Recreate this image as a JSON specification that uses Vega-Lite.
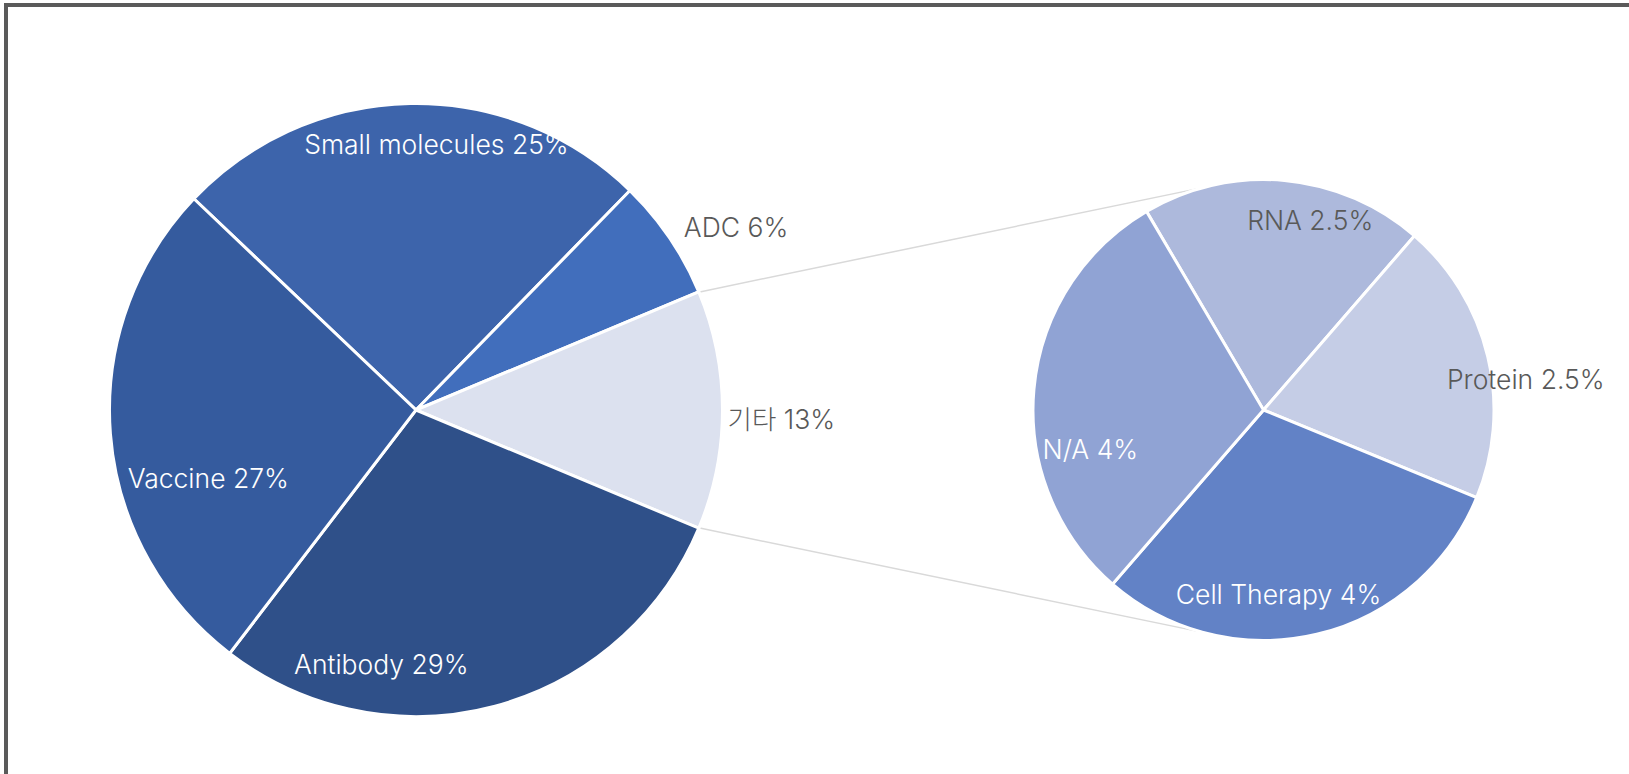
{
  "$schema": "https://vega.github.io/schema/vega-lite/v6.json",
  "width": 1623,
  "height": 769,
  "autosize": {"type": "none"},
  "padding": {"left": 6, "top": 5, "right": 0, "bottom": 0},
  "background": "#ffffff",
  "config": {
    "view": {"stroke": "#5a5a5a", "strokeWidth": 4, "strokeDash": [1623, 2392, 769]},
    "text": {"font": "Inter, 'Noto Sans CJK KR', sans-serif", "fontSize": 26.5, "fontWeight": 300}
  },
  "datasets": {
    "main": [
      {"pie": "main", "cat": "Small molecules", "label": "Small molecules 25%", "share": 25.2, "rank": 1},
      {"pie": "main", "cat": "ADC", "label": "ADC 6%", "share": 6.4, "rank": 2},
      {"pie": "main", "cat": "기타", "label": "기타 13%", "share": 12.6, "rank": 3},
      {"pie": "main", "cat": "Antibody", "label": "Antibody 29%", "share": 29.1, "rank": 4},
      {"pie": "main", "cat": "Vaccine", "label": "Vaccine 27%", "share": 26.7, "rank": 5}
    ],
    "detail": [
      {"pie": "detail", "cat": "RNA", "label": "RNA 2.5%", "share": 2.5, "rank": 1},
      {"pie": "detail", "cat": "Protein", "label": "Protein 2.5%", "share": 2.5, "rank": 2},
      {"pie": "detail", "cat": "Cell Therapy", "label": "Cell Therapy 4%", "share": 3.8, "rank": 3},
      {"pie": "detail", "cat": "N/A", "label": "N/A 4%", "share": 3.8, "rank": 4}
    ],
    "connectors": [
      {"x0": 0.9227, "y0": 0.3856, "x1": 2.56, "y1": 0.725},
      {"x0": 0.9227, "y0": -0.3856, "x1": 2.56, "y1": -0.725}
    ]
  },
  "layer": [
    {
      "data": {"name": "connectors"},
      "mark": {"type": "rule", "stroke": "#d9d9d9", "strokeWidth": 1.5},
      "encoding": {
        "x": {"field": "x0", "type": "quantitative", "scale": {"domain": [-1.34426, 3.97705], "nice": false, "zero": false}, "axis": null},
        "y": {"field": "y0", "type": "quantitative", "scale": {"domain": [-1.19344, 1.32787], "nice": false, "zero": false}, "axis": null},
        "x2": {"field": "x1"},
        "y2": {"field": "y1"}
      }
    },
    {
      "data": {"name": "main"},
      "encoding": {
        "x": {"field": "pie", "type": "nominal", "scale": {"type": "point", "domain": ["main", "detail"], "range": [410, 1257.5], "padding": 0}, "axis": null},
        "y": {"field": "pie", "type": "nominal", "scale": {"type": "point", "domain": ["main", "detail"], "range": [405, 405], "padding": 0}, "axis": null},
        "theta": {"field": "share", "type": "quantitative", "stack": true, "scale": {"domain": [0, 100], "range": [-0.81053, 5.47266]}},
        "order": {"field": "rank", "type": "quantitative"},
        "detail": {"field": "cat", "type": "nominal"}
      },
      "layer": [
        {
          "mark": {"type": "arc", "outerRadius": 306.5, "stroke": "#ffffff", "strokeWidth": 3},
          "encoding": {
            "color": {"field": "cat", "type": "nominal", "legend": null,
              "scale": {"domain": ["Small molecules", "ADC", "기타", "Antibody", "Vaccine"],
                        "range": ["#3d64ab", "#416ebc", "#dce1ef", "#2f5089", "#355b9e"]}}
          }
        },
        {
          "mark": {"type": "text", "radius": 264.3, "thetaOffset": 0.0962, "color": "#ffffff"},
          "encoding": {"text": {"condition": {"test": "datum.cat === 'Small molecules'", "field": "label"}, "value": ""}}
        },
        {
          "mark": {"type": "text", "radius": 367.9, "thetaOffset": 0.0813, "color": "#595959"},
          "encoding": {"text": {"condition": {"test": "datum.cat === 'ADC'", "field": "label"}, "value": ""}}
        },
        {
          "mark": {"type": "text", "radius": 365.5, "thetaOffset": 0.0295, "color": "#595959"},
          "encoding": {"text": {"condition": {"test": "datum.cat === '기타'", "field": "label"}, "value": ""}}
        },
        {
          "mark": {"type": "text", "radius": 258.3, "thetaOffset": 0.3955, "color": "#ffffff"},
          "encoding": {"text": {"condition": {"test": "datum.cat === 'Antibody'", "field": "label"}, "value": ""}}
        },
        {
          "mark": {"type": "text", "radius": 219.2, "thetaOffset": -0.2464, "color": "#ffffff"},
          "encoding": {"text": {"condition": {"test": "datum.cat === 'Vaccine'", "field": "label"}, "value": ""}}
        }
      ]
    },
    {
      "data": {"name": "detail"},
      "encoding": {
        "x": {"field": "pie", "type": "nominal", "scale": {"type": "point", "domain": ["main", "detail"], "range": [410, 1257.5], "padding": 0}, "axis": null},
        "y": {"field": "pie", "type": "nominal", "scale": {"type": "point", "domain": ["main", "detail"], "range": [405, 405], "padding": 0}, "axis": null},
        "theta": {"field": "share", "type": "quantitative", "stack": true, "scale": {"domain": [0, 12.6], "range": [-0.53233, 5.75086]}},
        "order": {"field": "rank", "type": "quantitative"},
        "detail": {"field": "cat", "type": "nominal"}
      },
      "layer": [
        {
          "mark": {"type": "arc", "outerRadius": 230.5, "stroke": "#ffffff", "strokeWidth": 3},
          "encoding": {
            "color": {"field": "cat", "type": "nominal", "legend": null,
              "scale": {"domain": ["RNA", "Protein", "Cell Therapy", "N/A"],
                        "range": ["#adb9dc", "#c5cde6", "#6282c6", "#90a3d4"]}}
          }
        },
        {
          "mark": {"type": "text", "radius": 193.4, "thetaOffset": 0.1529, "color": "#595959"},
          "encoding": {"text": {"condition": {"test": "datum.cat === 'RNA'", "field": "label"}, "value": ""}}
        },
        {
          "mark": {"type": "text", "radius": 263.8, "thetaOffset": 0.1241, "color": "#595959"},
          "encoding": {"text": {"condition": {"test": "datum.cat === 'Protein'", "field": "label"}, "value": ""}}
        },
        {
          "mark": {"type": "text", "radius": 187, "thetaOffset": 0.1529, "color": "#ffffff"},
          "encoding": {"text": {"condition": {"test": "datum.cat === 'Cell Therapy'", "field": "label"}, "value": ""}}
        },
        {
          "mark": {"type": "text", "radius": 177.9, "thetaOffset": -0.3236, "color": "#ffffff"},
          "encoding": {"text": {"condition": {"test": "datum.cat === 'N/A'", "field": "label"}, "value": ""}}
        }
      ]
    }
  ],
  "resolve": {"scale": {"x": "independent", "y": "independent", "theta": "independent", "color": "independent"}}
}
